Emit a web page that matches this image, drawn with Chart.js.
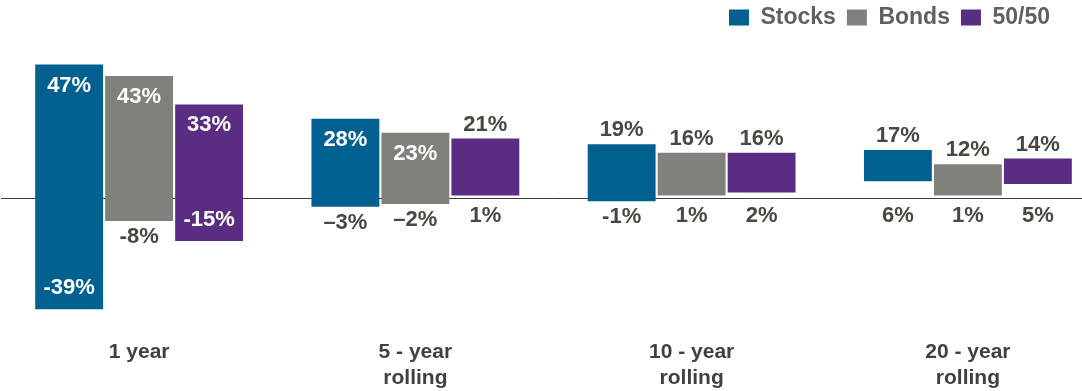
<!DOCTYPE html>
<html>
<head>
<meta charset="utf-8">
<script src="https://cdn.jsdelivr.net/npm/chart.js@4"></script>
<style>
  body { margin: 0; background: #fff; overflow: hidden; }
  /* the source crops the last category slightly at the right edge */
  #wrap { width: 1106px; height: 391px; }
</style>
</head>
<body>
<div id="wrap"><canvas id="myChart"></canvas></div>
<script>
const categories = ['1 year', ['5 - year', 'rolling'], ['10 - year', 'rolling'], ['20 - year', 'rolling']];
const stocksLow = [-39, -3, -1, 6];
const stocksHigh = [47, 28, 19, 17];
const bondsLow = [-8, -2, 1, 1];
const bondsHigh = [43, 23, 16, 12];
const mixLow = [-15, 1, 2, 5];
const mixHigh = [33, 21, 16, 14];
// the source uses an en dash in the 5-year column
const minusSigns = ['-', '\u2013', '-', '-'];

const darkText = '#4a4741';

function pairs(lo, hi) {
  return lo.map((v, i) => [v, hi[i]]);
}

function fmt(v, i) {
  return (v < 0 ? minusSigns[i] + Math.abs(v) : v) + '%';
}

// value labels at both ends of every bar
const barLabels = {
  id: 'barLabels',
  afterDatasetsDraw(chart) {
    const ctx = chart.ctx;
    const y = chart.scales.y;
    const zero = y.getPixelForValue(0);
    ctx.save();
    ctx.font = 'bold 22px "Liberation Sans", Arial, sans-serif';
    ctx.textAlign = 'center';
    ctx.textBaseline = 'middle';
    chart.data.datasets.forEach((ds, d) => {
      const meta = chart.getDatasetMeta(d);
      meta.data.forEach((bar, i) => {
        const [lo, hi] = ds.data[i];
        const top = y.getPixelForValue(hi);
        const bottom = y.getPixelForValue(lo);
        if (hi >= 22) {
          ctx.fillStyle = '#fff';
          ctx.fillText(fmt(hi, i), bar.x, top + 21);
        } else {
          ctx.fillStyle = darkText;
          ctx.fillText(fmt(hi, i), bar.x, top - 14);
        }
        if (lo <= -12) {
          ctx.fillStyle = '#fff';
          ctx.fillText(fmt(lo, i), bar.x, bottom - 21);
        } else {
          ctx.fillStyle = darkText;
          ctx.fillText(fmt(lo, i), bar.x, Math.max(bottom + 16, zero + 18));
        }
      });
    });
    ctx.restore();
  }
};

// keep the legend inside the visible 1082px
const legendShift = {
  id: 'legendShift',
  afterLayout(chart) {
    chart.legend.right = 1061;
  }
};

const data = {
  labels: categories,
  datasets: [
    { label: 'Stocks', data: pairs(stocksLow, stocksHigh), backgroundColor: '#00608f' },
    { label: 'Bonds', data: pairs(bondsLow, bondsHigh), backgroundColor: '#7f817a' },
    { label: '50/50', data: pairs(mixLow, mixHigh), backgroundColor: '#5a2d82' }
  ]
};

const config = {
  type: 'bar',
  data: data,
  options: {
    responsive: true,
    maintainAspectRatio: false,
    animation: false,
    layout: { padding: { top: -5, right: 0, left: 1, bottom: -29 } },
    datasets: {
      bar: { barPercentage: 0.97, categoryPercentage: 0.76, borderSkipped: false }
    },
    plugins: {
      legend: {
        position: 'top',
        align: 'end',
        labels: {
          boxWidth: 20,
          boxHeight: 16,
          padding: 11,
          color: '#5f6066',
          font: { family: '"Liberation Sans", Arial, sans-serif', size: 23, weight: 'bold' }
        }
      },
      tooltip: { enabled: false }
    },
    scales: {
      x: {
        grid: { display: false, drawTicks: false },
        border: { display: false },
        ticks: {
          padding: 28,
          color: '#404040',
          maxRotation: 0,
          autoSkip: false,
          font: { family: '"Liberation Sans", Arial, sans-serif', size: 21, weight: 'bold', lineHeight: 1.27 }
        }
      },
      y: {
        min: -39.5,
        max: 56,
        border: { display: false },
        grid: {
          drawTicks: false,
          color: ctx => ctx.tick && ctx.tick.value === 0 ? '#3c3c3c' : 'transparent',
          lineWidth: 1
        },
        ticks: { display: false, stepSize: 0.5 }
      }
    }
  },
  plugins: [barLabels, legendShift]
};

const myChart = new Chart(document.getElementById('myChart'), config);
</script>
</body>
</html>
